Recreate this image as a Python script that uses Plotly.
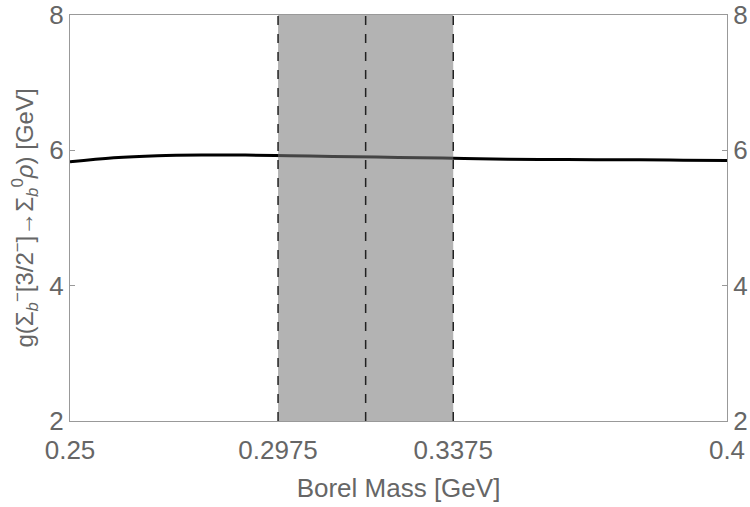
import plotly.graph_objects as go

# Borel mass window and coupling curve
borel_mass = [0.25, 0.26, 0.27, 0.28, 0.29, 0.30, 0.31, 0.32,
              0.33, 0.34, 0.35, 0.36, 0.37, 0.38, 0.39, 0.40]
coupling = [5.83, 5.89, 5.92, 5.93, 5.93, 5.92, 5.91, 5.90,
            5.89, 5.88, 5.87, 5.865, 5.86, 5.86, 5.855, 5.85]

band_low = 0.2975
band_mid = 0.3175
band_high = 0.3375

x_ticks = [0.25, 0.2975, 0.3375, 0.4]
x_tick_text = ["0.25", "0.2975", "0.3375", "0.4"]
y_ticks = [2, 4, 6, 8]

FONT = "Liberation Sans, Arial, sans-serif"
GREY = "#666666"

fig = go.Figure()

fig.add_trace(
    go.Scatter(
        x=borel_mass,
        y=coupling,
        mode="lines",
        line=dict(color="black", width=3, shape="spline"),
        showlegend=False,
    )
)
# invisible trace so the right hand axis gets its labels
fig.add_trace(
    go.Scatter(x=[0.25], y=[2], yaxis="y2", mode="markers",
               marker=dict(opacity=0), showlegend=False, hoverinfo="skip")
)

fig.add_shape(
    type="rect", xref="x", yref="y", x0=band_low, x1=band_high, y0=2, y1=8,
    fillcolor="rgba(120,120,120,0.565)", line=dict(width=0), layer="above",
)
for xv in (band_low, band_mid, band_high):
    fig.add_shape(
        type="line", xref="x", yref="y", x0=xv, x1=xv, y0=2, y1=8,
        line=dict(color="#222222", width=1.5, dash="dash"), layer="above",
    )

tick_font = dict(family=FONT, size=26, color=GREY)

fig.update_layout(
    width=750,
    height=507,
    margin=dict(l=70, r=23, t=15, b=86, autoexpand=False),
    plot_bgcolor="white",
    paper_bgcolor="white",
    font=dict(family=FONT, color=GREY),
    xaxis=dict(
        range=[0.25, 0.4],
        tickvals=x_ticks,
        ticktext=x_tick_text,
        showgrid=False,
        zeroline=False,
        showline=True,
        mirror=True,
        linecolor="#999999",
        linewidth=1,
        ticks="",
        tickfont=tick_font,
        ticklabelstandoff=6,
        ticklabeloverflow="allow",
        automargin=False,
        title=dict(text="Borel Mass [GeV]", font=dict(family=FONT, size=26, color=GREY),
                   standoff=14),
    ),
    yaxis=dict(
        range=[2, 8],
        tickvals=y_ticks,
        showgrid=False,
        zeroline=False,
        showline=True,
        linecolor="#999999",
        linewidth=1,
        ticks="inside",
        ticklen=5,
        tickcolor="#999999",
        tickfont=tick_font,
        ticklabeloverflow="allow",
        automargin=False,
        title=dict(
            text="g(Σ<sub><i>b</i></sub><sup>−</sup>[3/2<sup>−</sup>]→Σ<sub><i>b</i></sub><sup>0</sup><i>ρ</i>) [GeV]",
            font=dict(family=FONT, size=24, color=GREY),
            standoff=8,
        ),
    ),
    yaxis2=dict(
        range=[2, 8],
        tickvals=y_ticks,
        overlaying="y",
        side="right",
        showgrid=False,
        zeroline=False,
        showline=True,
        linecolor="#999999",
        linewidth=1,
        ticks="inside",
        ticklen=5,
        tickcolor="#999999",
        tickfont=tick_font,
        ticklabeloverflow="allow",
        automargin=False,
    ),
)

# drop the default 8px page margin so the figure sits at the window corner
fig.write_html(
    "out.html",
    config={"displayModeBar": False},
    post_script="document.body.style.margin='0';",
)
